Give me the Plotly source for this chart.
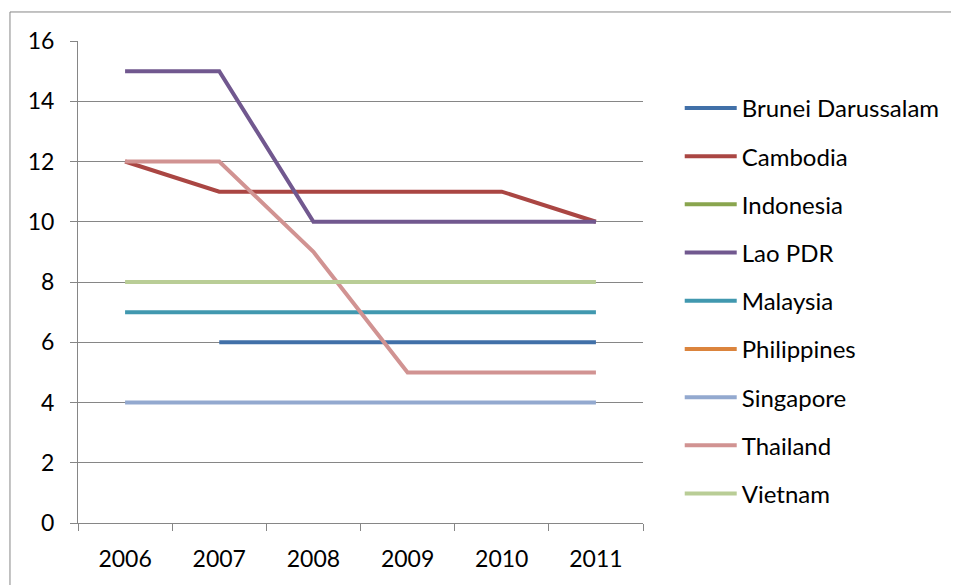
import plotly.graph_objects as go

# categories and series
years = ["2006", "2007", "2008", "2009", "2010", "2011"]

brunei = [None, 6, 6, 6, 6, 6]
cambodia = [12, 11, 11, 11, 11, 10]
indonesia = [None, None, None, None, None, None]
lao = [15, 15, 10, 10, 10, 10]
malaysia = [7, 7, 7, 7, 7, 7]
philippines = [None, None, None, None, None, None]
singapore = [4, 4, 4, 4, 4, 4]
thailand = [12, 12, 9, 5, 5, 5]
vietnam = [8, 8, 8, 8, 8, 8]

series = [
    ("Brunei Darussalam", brunei, "#4170A8"),
    ("Cambodia", cambodia, "#AA4643"),
    ("Indonesia", indonesia, "#89A54E"),
    ("Lao PDR", lao, "#71588F"),
    ("Malaysia", malaysia, "#4198AF"),
    ("Philippines", philippines, "#DB843D"),
    ("Singapore", singapore, "#93A9CF"),
    ("Thailand", thailand, "#D19392"),
    ("Vietnam", vietnam, "#B9CD96"),
]

font = "Lato, Open Sans, sans-serif"
grid = "#868686"

fig = go.Figure()
for name, vals, col in series:
    fig.add_trace(go.Scatter(
        x=years, y=vals, name=name, mode="lines", legendgroup=name,
        line=dict(color=col, width=4), connectgaps=False,
    ))

# page body has an 8px margin, so margins are shifted to compensate
fig.update_layout(
    width=959, height=585,
    margin=dict(l=70, r=324, t=33, b=70),
    paper_bgcolor="white", plot_bgcolor="white",
    font=dict(family=font, size=23, color="black"),
    showlegend=True,
    legend=dict(
        x=1.065, y=0.907, xanchor="left", yanchor="top",
        font=dict(size=24), itemwidth=52, tracegroupgap=14,
        bgcolor="rgba(0,0,0,0)",
    ),
    xaxis=dict(
        type="category", range=[-0.5, 5.5], tickson="boundaries",
        showgrid=False, showline=True, linecolor=grid, linewidth=1,
        ticks="outside", ticklen=7, tickcolor=grid, ticklabelstandoff=15,
    ),
    yaxis=dict(
        range=[0, 16], dtick=2, showgrid=True, gridcolor=grid, gridwidth=1,
        showline=True, linecolor=grid, linewidth=1, zeroline=False,
        ticks="outside", ticklen=7, tickcolor=grid, ticklabelstandoff=11,
    ),
    shapes=[dict(
        type="rect", xref="paper", yref="paper",
        x0=-0.1204, x1=2, y0=-1, y1=1.0602,
        line=dict(color=grid, width=1), layer="below",
    )],
)

fig.write_html("out.html")
